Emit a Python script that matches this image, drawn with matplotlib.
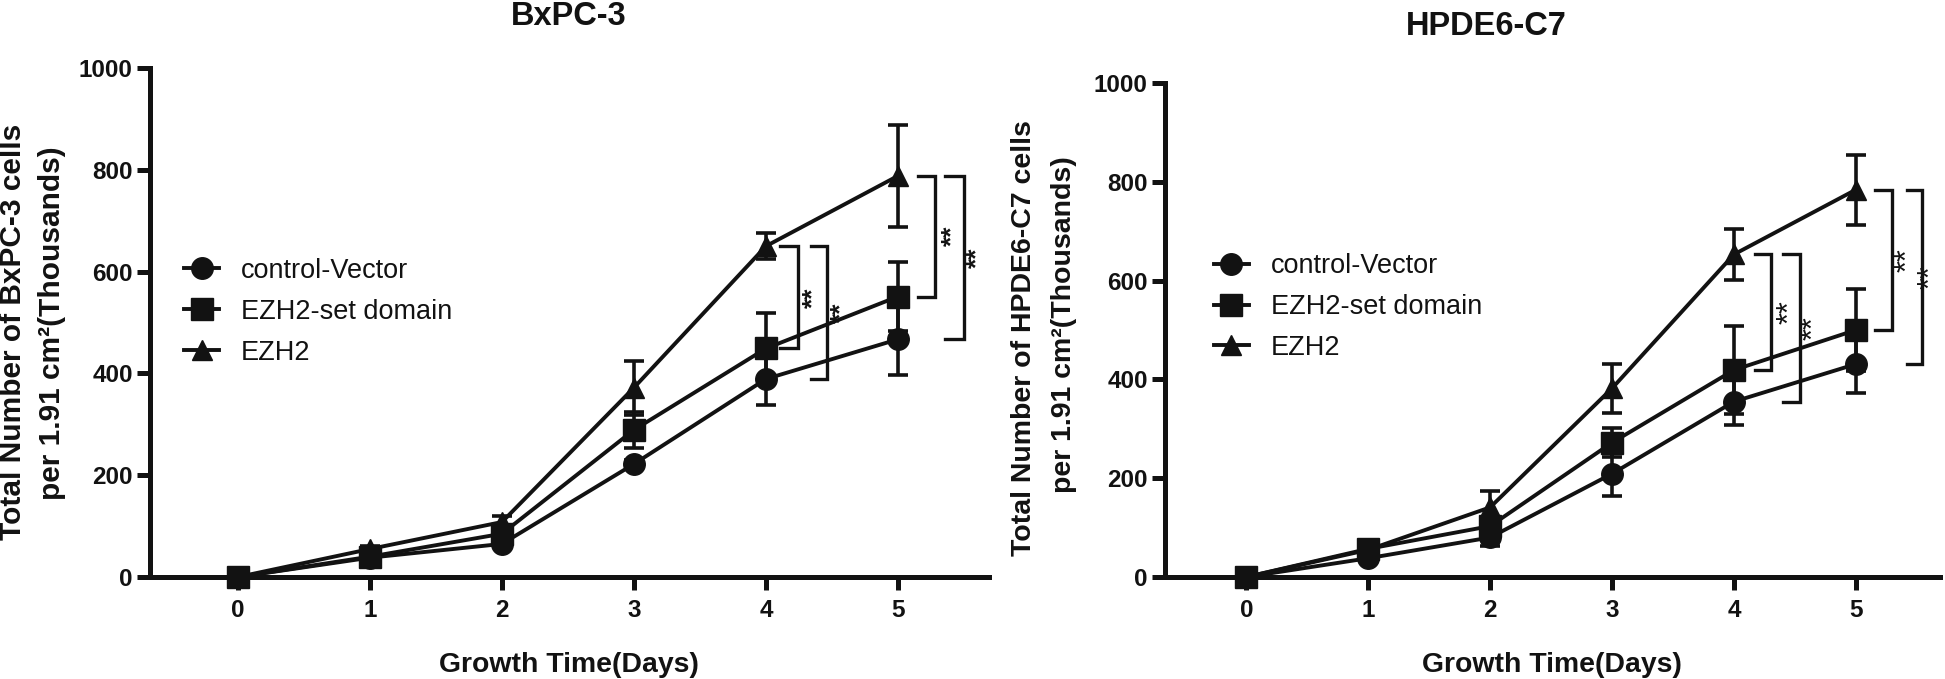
import matplotlib
matplotlib.use('Agg')
import matplotlib.pyplot as plt
from matplotlib.lines import Line2D

plt.rcParams['font.family'] = ['Liberation Sans', 'DejaVu Sans']

# ---------------- data ----------------
days = [0, 1, 2, 3, 4, 5]
series_names = ['control-Vector', 'EZH2-set domain', 'EZH2']

bx_ctrl = [0, 38, 65, 222, 389, 467]
bx_ctrl_err = [0, 4, 6, 8, 52, 70]
bx_set = [0, 40, 85, 289, 449, 551]
bx_set_err = [0, 4, 8, 35, 70, 67]
bx_ezh2 = [0, 55, 108, 372, 650, 788]
bx_ezh2_err = [0, 5, 11, 53, 25, 100]

hp_ctrl = [0, 38, 80, 209, 355, 431]
hp_ctrl_err = [0, 4, 18, 45, 47, 59]
hp_set = [0, 57, 103, 272, 419, 500]
hp_set_err = [0, 5, 10, 29, 89, 83]
hp_ezh2 = [0, 55, 141, 382, 653, 784]
hp_ezh2_err = [0, 5, 34, 50, 52, 71]

y_ticks = [0, 200, 400, 600, 800, 1000]
sig_label = '**'

# ---------------- style ----------------
W, H = 1945, 679
INK = '#121212'
fig = plt.figure(figsize=(W / 100, H / 100), dpi=100)


def fx(px):
    return px / W


def fy(py):
    return 1 - py / H


panels = [
    dict(rect=(150, 68, 989, 577), title='BxPC-3', title_x=569, title_base=25,
         ylab1='Total Number of BxPC-3 cells', ylab2='per 1.91 cm²(Thousands)',
         ylab_x=(13, 52), ylab_y=(332, 323), ylab_size=21.5, xlab_x=569,
         data=(bx_ctrl, bx_ctrl_err, bx_set, bx_set_err, bx_ezh2, bx_ezh2_err),
         leg=(0.0405, 0.521),
         br=[(0.11, 0.24, 0.12), (0.34, 0.46, 0.11), (0.15, 0.28, 0.13), (0.36, 0.50, 0.10)],
         star_size=19, star_weight='bold'),
    dict(rect=(1165, 83, 1940, 577), title='HPDE6-C7', title_x=1486, title_base=35,
         ylab1='Total Number of HPDE6-C7 cells', ylab2='per 1.91 cm²(Thousands)',
         ylab_x=(1024, 1064), ylab_y=(338, 325), ylab_size=20.5, xlab_x=1552,
         data=(hp_ctrl, hp_ctrl_err, hp_set, hp_set_err, hp_ezh2, hp_ezh2_err),
         leg=(0.063, 0.5466),
         br=[(0.17, 0.30, 0.16), (0.40, 0.54, 0.12), (0.16, 0.30, 0.13), (0.42, 0.54, 0.08)],
         star_size=22, star_weight='normal'),
]

markers = ['o', 's', '^']
msizes = [15.5, 15.5, 15]

for p in panels:
    l, t, r, b = p['rect']
    ax = fig.add_axes([fx(l), fy(b), fx(r) - fx(l), fy(t) - fy(b)])
    ctrl, ctrl_e, sset, sset_e, ezh, ezh_e = p['data']
    vals = [(ctrl, ctrl_e), (sset, sset_e), (ezh, ezh_e)]
    # draw order: triangle, circle, square on top
    for i in [2, 0, 1]:
        v, e = vals[i]
        cont = ax.errorbar(days, v, yerr=e, marker=markers[i], ms=msizes[i],
                           color=INK, lw=2.8, elinewidth=2.6, capsize=7.5,
                           capthick=2.6, zorder=3 + i)
        for art in cont.get_children():
            art.set_clip_on(False)
        cont.lines[0].set_clip_on(False)

    ax.set_xlim(-0.667, 5.69)
    ax.set_ylim(0, 1000)
    ax.set_xticks(days)
    ax.set_yticks(y_ticks)
    for s in ['top', 'right']:
        ax.spines[s].set_visible(False)
    for s in ['left', 'bottom']:
        ax.spines[s].set_linewidth(3.6)
        ax.spines[s].set_color(INK)
        ax.spines[s].set_capstyle('projecting')
    ax.tick_params(axis='both', direction='out', length=9.5, width=3.6, color=INK,
                   labelsize=17.5, labelcolor=INK)
    ax.tick_params(axis='x', pad=6)
    ax.tick_params(axis='y', pad=3)
    for lab in ax.get_xticklabels() + ax.get_yticklabels():
        lab.set_fontweight('bold')

    # significance brackets: EZH2 vs EZH2-set domain / control at days 4 and 5
    pairs = [(4, sset), (4, ctrl), (5, sset), (5, ctrl)]
    for (d, low), (x0, x1, so) in zip(pairs, p['br']):
        top = ezh[d]
        bot = low[d]
        ax.plot([d + x0, d + x1, d + x1, d + x0], [top, top, bot, bot],
                color=INK, lw=2.4, solid_joinstyle='miter', clip_on=False, zorder=2)
        ax.text(d + x1 + so, (top + bot) / 2, sig_label, rotation=90,
                ha='center', va='center', fontsize=p['star_size'],
                fontweight=p['star_weight'], color=INK, clip_on=False, zorder=10)

    handles = [Line2D([], [], color=INK, lw=2.8, marker=markers[i], ms=msizes[i])
               for i in range(3)]
    ax.legend(handles, series_names, loc='center left', bbox_to_anchor=p['leg'],
              frameon=False, fontsize=19.5, handlelength=1.3, handletextpad=0.8,
              labelspacing=0.55, borderpad=0, borderaxespad=0, labelcolor=INK)

    fig.text(fx(p['title_x']), fy(p['title_base']), p['title'], ha='center',
             va='baseline', fontsize=23.5, fontweight='bold', color=INK)
    fig.text(fx(p['xlab_x']), fy(672), 'Growth Time(Days)', ha='center',
             va='baseline', fontsize=20.4, fontweight='bold', color=INK)
    fig.text(fx(p['ylab_x'][0]), fy(p['ylab_y'][0]), p['ylab1'], rotation=90,
             ha='center', va='center', fontsize=p['ylab_size'], fontweight='bold',
             color=INK)
    fig.text(fx(p['ylab_x'][1]), fy(p['ylab_y'][1]), p['ylab2'], rotation=90,
             ha='center', va='center', fontsize=p['ylab_size'], fontweight='bold',
             color=INK)

fig.savefig('out.png', dpi=100)
